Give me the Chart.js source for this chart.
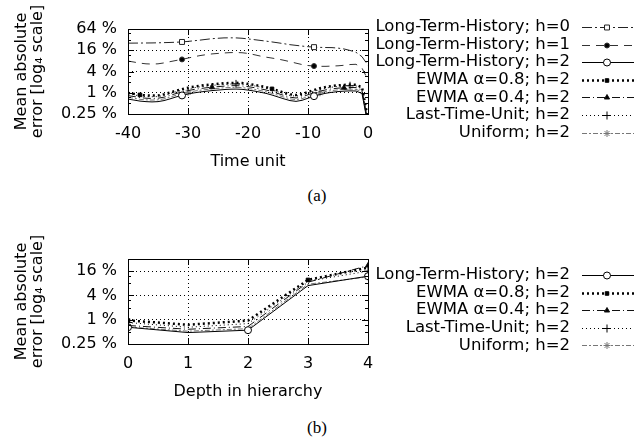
<!DOCTYPE html>
<html>
<head>
<meta charset="utf-8">
<script src="https://cdn.jsdelivr.net/npm/chart.js"></script>
<style>
  body { margin: 0; background: #fff; width: 634px; height: 443px; position: relative; overflow: hidden; }
  canvas { position: absolute; left: 0; }
  #chartA { top: 0; }
  #chartB { top: 230px; }
  .cap { position: absolute; left: 0; width: 634px; text-align: center; font-family: "Liberation Serif", serif; font-size: 17px; color: #000; }
</style>
</head>
<body>
<canvas id="chartA" width="634" height="172"></canvas>
<canvas id="chartB" width="634" height="172"></canvas>
<div class="cap" style="top:186px">(a)</div>
<div class="cap" style="top:418px">(b)</div>
<script>
// ---- (a) error over time, values in %
const timeUnits = [-40,-39,-38,-37,-36,-35,-34,-33,-32,-31,-30,-29,-28,-27,-26,-25,-24,-23,-22,-21,-20,
  -19,-18,-17,-16,-15,-14,-13,-12,-11,-10,-9,-8,-7,-6,-5,-4,-3,-2,-1,0];

const lthH0 = [25.4,25.5,25.6,25.7,25.8,26.0,26.3,26.6,27.0,27.5,28.5,29.7,31.0,32.5,34.0,35.0,35.8,36.0,35.8,35.0,
  33.5,32.0,30.5,29.0,27.5,26.0,24.5,23.0,22.0,21.0,20.2,19.6,19.3,19.1,19.0,18.4,17.4,15.8,14.0,10.5,6.0];
const lthH1 = [7.9,7.4,6.9,6.6,6.5,6.6,7.0,7.6,8.2,8.8,9.6,10.5,11.3,12.0,12.6,13.0,13.4,13.7,13.8,13.6,
  13.0,12.0,11.0,10.2,9.6,9.0,8.3,7.6,6.9,6.3,5.9,5.7,5.6,5.6,5.7,5.8,6.0,6.3,6.4,5.0,2.3];
const lthH2 = [0.66,0.62,0.58,0.56,0.55,0.56,0.60,0.67,0.76,0.84,0.92,0.99,1.05,1.10,1.15,1.19,1.23,1.26,1.27,1.25,
  1.19,1.12,1.04,0.96,0.86,0.76,0.67,0.60,0.57,0.61,0.70,0.80,0.89,0.97,1.03,1.08,1.11,1.13,1.12,0.95,0.12];
const ewma08 = [0.99,0.93,0.87,0.84,0.83,0.84,0.90,1.01,1.14,1.26,1.38,1.49,1.58,1.65,1.73,1.79,1.85,1.89,1.91,1.88,
  1.79,1.68,1.56,1.44,1.29,1.14,1.01,0.90,0.86,0.92,1.05,1.20,1.34,1.46,1.55,1.62,1.67,1.70,1.68,1.43,0.18];
const ewma04 = [0.83,0.78,0.73,0.70,0.69,0.70,0.75,0.84,0.95,1.05,1.15,1.24,1.31,1.38,1.44,1.49,1.54,1.58,1.59,1.56,
  1.49,1.40,1.30,1.20,1.08,0.95,0.84,0.75,0.71,0.76,0.88,1.00,1.11,1.21,1.29,1.35,1.39,1.41,1.40,1.19,0.15];
const lastUnit = [0.92,0.87,0.81,0.78,0.77,0.78,0.84,0.94,1.06,1.18,1.29,1.39,1.47,1.54,1.61,1.67,1.72,1.76,1.78,1.75,
  1.67,1.57,1.46,1.34,1.20,1.06,0.94,0.84,0.80,0.85,0.98,1.12,1.25,1.36,1.44,1.51,1.55,1.58,1.57,1.33,0.17];
const uniform = [0.74,0.70,0.65,0.63,0.62,0.63,0.67,0.75,0.85,0.94,1.03,1.11,1.18,1.23,1.29,1.33,1.38,1.41,1.42,1.40,
  1.33,1.25,1.16,1.07,0.96,0.85,0.75,0.67,0.64,0.68,0.78,0.90,1.00,1.09,1.15,1.21,1.24,1.27,1.25,1.06,0.13];

// where gnuplot put the point symbols (x values)
const marksA = {
  lthH0: [-31, -9], lthH1: [-31, -9], lthH2: [-31, -9],
  ewma08: [-38, -16], ewma04: [-26, -4], lastUnit: [-22, -3], uniform: [-30, -8]
};

// ---- (b) error by depth
const depths = [0, 1, 2, 3, 4];
const depthLth = [0.65, 0.48, 0.55, 7.0, 12.0];
const depthEwma08 = [0.96, 0.75, 0.95, 9.7, 19.5];
const depthEwma04 = [0.72, 0.58, 0.68, 8.5, 22.0];
const depthLast = [0.85, 0.65, 0.80, 9.0, 16.0];
const depthUniform = [0.66, 0.52, 0.60, 7.6, 11.5];
const marksB = {
  lthH2: [0, 2, 4], ewma08: [0, 3], ewma04: [0, 4], lastUnit: [0, 4], uniform: [0, 4]
};

const yTicksA = [0.25, 1, 4, 16, 64];
const yTicksB = [0.25, 1, 4, 16];

// line look per series (gnuplot monochrome)
const styles = {
  lthH0:    { label: 'Long-Term-History; h=0', color: '#222', width: 1, dash: [10,3,2,3], point: 'rect', fill: '#fff', r: 3.5 },
  lthH1:    { label: 'Long-Term-History; h=1', color: '#333', width: 1, dash: [8,6], point: 'circle', fill: '#000', r: 2.5 },
  lthH2:    { label: 'Long-Term-History; h=2', color: '#000', width: 1, dash: [], point: 'circle', fill: '#fff', r: 3.5 },
  ewma08:   { label: 'EWMA α=0.8; h=2', color: '#000', width: 2.5, dash: [2,3], point: 'rect', fill: '#000', r: 2.5 },
  ewma04:   { label: 'EWMA α=0.4; h=2', color: '#111', width: 1, dash: [8,3,1,3], point: 'triangle', fill: '#000', r: 3 },
  lastUnit: { label: 'Last-Time-Unit; h=2', color: '#000', width: 1, dash: [1,3], point: 'cross', fill: '#000', r: 4 },
  uniform:  { label: 'Uniform; h=2', color: '#777', width: 1, dash: [5,2,2,2], point: 'star', fill: '#777', r: 3.5 }
};

Chart.defaults.font.family = '"DejaVu Sans", sans-serif';
Chart.defaults.font.size = 16;
Chart.defaults.color = '#000';

function makeSet(key, xs, ys, marks) {
  const s = styles[key];
  return {
    label: s.label,
    data: xs.map((x, i) => ({ x: x, y: ys[i] })),
    borderColor: s.color,
    borderWidth: s.width,
    borderDash: s.dash,
    pointStyle: s.point,
    pointRadius: xs.map(x => marks.includes(x) ? s.r : 0),
    pointBackgroundColor: s.fill,
    pointBorderColor: s.color,
    pointBorderWidth: 1,
    legendRadius: s.r,
    fill: false,
    tension: 0
  };
}

// frame with inward tics, like gnuplot border
const gnuFrame = {
  id: 'gnuFrame',
  afterDatasetsDraw(chart) {
    const { ctx, chartArea: a, scales: { x, y } } = chart;
    ctx.save();
    ctx.strokeStyle = '#000';
    ctx.lineWidth = 1;
    ctx.setLineDash([]);
    ctx.strokeRect(Math.round(a.left) + 0.5, Math.round(a.top) + 0.5, Math.round(a.right - a.left), Math.round(a.bottom - a.top));
    ctx.beginPath();
    x.ticks.forEach(t => {
      const px = Math.round(x.getPixelForValue(t.value)) + 0.5;
      ctx.moveTo(px, a.bottom); ctx.lineTo(px, a.bottom - 6);
      ctx.moveTo(px, a.top); ctx.lineTo(px, a.top + 6);
    });
    y.ticks.forEach(t => {
      const py = Math.round(y.getPixelForValue(t.value)) + 0.5;
      ctx.moveTo(a.left, py); ctx.lineTo(a.left + 6, py);
      ctx.moveTo(a.right, py); ctx.lineTo(a.right - 6, py);
      [2, 3].forEach(m => {
        const v = t.value * m;
        if (v >= y.max) return;
        const pm = Math.round(y.getPixelForValue(v)) + 0.5;
        ctx.moveTo(a.left, pm); ctx.lineTo(a.left + 3, pm);
        ctx.moveTo(a.right, pm); ctx.lineTo(a.right - 3, pm);
      });
    });
    ctx.stroke();
    ctx.restore();
  }
};

// key: text right aligned, then the line sample with its symbol
const gnuKey = {
  id: 'gnuKey',
  afterDraw(chart, args, opts) {
    const ctx = chart.ctx;
    ctx.save();
    ctx.font = '16.5px "DejaVu Sans"';
    ctx.textAlign = 'right';
    ctx.textBaseline = 'middle';
    chart.data.datasets.forEach((ds, i) => {
      const yy = opts.top + i * 17.6;
      ctx.fillStyle = '#000';
      ctx.fillText(ds.label, opts.textRight, yy);
      ctx.strokeStyle = ds.borderColor;
      ctx.lineWidth = ds.borderWidth;
      ctx.setLineDash(ds.borderDash);
      ctx.beginPath();
      ctx.moveTo(opts.textRight + 12, Math.round(yy) + 0.5);
      ctx.lineTo(opts.textRight + 66, Math.round(yy) + 0.5);
      ctx.stroke();
      ctx.setLineDash([]);
      ctx.lineWidth = 1;
      ctx.fillStyle = ds.pointBackgroundColor;
      ctx.strokeStyle = ds.pointBorderColor;
      Chart.helpers.drawPoint(ctx, { pointStyle: ds.pointStyle, radius: ds.legendRadius, borderWidth: 1, rotation: 0 },
        opts.textRight + 37, Math.round(yy) + 0.5);
    });
    ctx.restore();
  }
};

function makeOptions(xCfg, yTicks, yMax, xTitle) {
  return {
    responsive: false,
    animation: false,
    devicePixelRatio: 1,
    layout: { padding: { left: 0, right: 266, top: 29, bottom: 0 } },
    plugins: {
      legend: { display: false },
      tooltip: { enabled: false },
      gnuKey: { top: 0, textRight: 570 }
    },
    scales: {
      x: Object.assign({
        type: 'linear',
        grid: { color: '#000', lineWidth: 1, drawTicks: false },
        border: { display: false, dash: [1, 3] },
        title: { display: true, text: xTitle, font: { size: 16 }, padding: { top: 0, bottom: 1 } },
        afterFit: s => { s.height = 58; }
      }, xCfg),
      y: {
        type: 'logarithmic',
        min: 0.25,
        max: yMax,
        grid: { color: '#000', lineWidth: 1, drawTicks: false },
        border: { display: false, dash: [1, 3] },
        ticks: { padding: 11, autoSkip: false, font: { size: 16 }, callback: v => v + ' %' },
        afterBuildTicks: s => { s.ticks = yTicks.map(v => ({ value: v })); },
        title: {
          display: true,
          text: ['Mean absolute', 'error [log₄ scale]'],
          font: { size: 16, lineHeight: 1.05 },
          padding: { top: 13, bottom: 0 }
        },
        afterFit: s => { s.width = 128; }
      }
    }
  };
}

const optsA = makeOptions({ min: -40, max: 0,
  ticks: { padding: 10, maxRotation: 0, autoSkip: false, stepSize: 10, font: { size: 16 } } },
  yTicksA, 64, 'Time unit');
optsA.plugins.gnuKey.top = 27;

new Chart(document.getElementById('chartA'), {
  type: 'line',
  data: {
    datasets: [
      makeSet('lthH0', timeUnits, lthH0, marksA.lthH0),
      makeSet('lthH1', timeUnits, lthH1, marksA.lthH1),
      makeSet('lthH2', timeUnits, lthH2, marksA.lthH2),
      makeSet('ewma08', timeUnits, ewma08, marksA.ewma08),
      makeSet('ewma04', timeUnits, ewma04, marksA.ewma04),
      makeSet('lastUnit', timeUnits, lastUnit, marksA.lastUnit),
      makeSet('uniform', timeUnits, uniform, marksA.uniform)
    ]
  },
  options: optsA,
  plugins: [gnuFrame, gnuKey]
});

const optsB = makeOptions({ min: 0, max: 4,
  ticks: { padding: 10, maxRotation: 0, autoSkip: false, stepSize: 1, font: { size: 16 } } },
  yTicksB, 32, 'Depth in hierarchy');
optsB.plugins.gnuKey.top = 45;

new Chart(document.getElementById('chartB'), {
  type: 'line',
  data: {
    datasets: [
      makeSet('lthH2', depths, depthLth, marksB.lthH2),
      makeSet('ewma08', depths, depthEwma08, marksB.ewma08),
      makeSet('ewma04', depths, depthEwma04, marksB.ewma04),
      makeSet('lastUnit', depths, depthLast, marksB.lastUnit),
      makeSet('uniform', depths, depthUniform, marksB.uniform)
    ]
  },
  options: optsB,
  plugins: [gnuFrame, gnuKey]
});
</script>
</body>
</html>
